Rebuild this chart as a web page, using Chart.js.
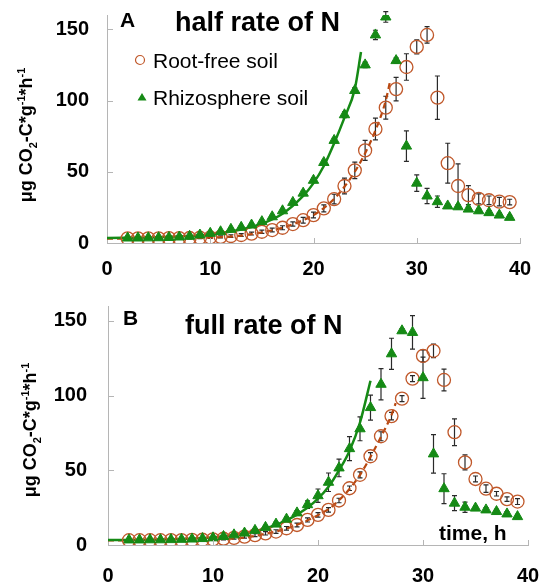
<!DOCTYPE html>
<html><head><meta charset="utf-8">
<script src="https://cdn.jsdelivr.net/npm/chart.js@4.4.1/dist/chart.umd.min.js"></script>
<style>
html,body{margin:0;padding:0;background:#fff}
body{width:543px;height:586px;overflow:hidden;position:relative;font-family:"Liberation Sans",Arial,sans-serif}
#wa{position:absolute;left:0;top:0;width:543px;height:290px}
#wb{position:absolute;left:0;top:290px;width:543px;height:296px}
.t{position:absolute;white-space:nowrap;line-height:1;color:#000;font-weight:bold}
.yt{position:absolute;white-space:nowrap;line-height:1;color:#000;font-weight:bold;font-size:18px;transform:translate(-50%,-50%) rotate(-90deg)}
.yt sub,.yt sup{font-size:11px;line-height:0}
.lg{position:absolute;white-space:nowrap;line-height:1;color:#000;font-size:21px}
svg{position:absolute}
</style>
</head><body>
<div id="wa"><canvas id="ca" width="543" height="290"></canvas></div>
<div id="wb"><canvas id="cb" width="543" height="296"></canvas></div>

<div class="yt" style="left:26px;top:135px">μg CO<sub>2</sub>-C*g<sup>-1</sup>*h<sup>-1</sup></div>
<div class="yt" style="left:30px;top:430px">μg CO<sub>2</sub>-C*g<sup>-1</sup>*h<sup>-1</sup></div>
<div class="t" style="left:120px;top:9px;font-size:21px">A</div>
<div class="t" style="left:175px;top:9px;font-size:27px">half rate of N</div>
<div class="t" style="left:123px;top:307px;font-size:21px">B</div>
<div class="t" style="left:185px;top:312px;font-size:27px">full rate of N</div>
<div class="t" style="left:439px;top:522px;font-size:21px">time, h</div>
<svg style="left:134px;top:54px" width="12" height="12"><circle cx="6" cy="6" r="4.5" fill="none" stroke="#C0582A" stroke-width="1.2"/></svg>
<svg style="left:136px;top:91px" width="12" height="12"><polygon points="6,2 10.5,9.5 1.5,9.5" fill="#158A15"/></svg>
<div class="lg" style="left:153px;top:50px">Root-free soil</div>
<div class="lg" style="left:153px;top:87px">Rhizosphere soil</div>

<script>
// ---------- data ----------
const hours = [2,3,4,5,6,7,8,9,10,11,12,13,14,15,16,17,18,19,20,21,22,23,24,25,26,27,28,29,30,31,32,33,34,35,36,37,38,39];
const xTicks = [0,10,20,30,40];
const yTicks = [0,50,100,150];

// Panel A: half rate of N
const rootFreeA    = [3.3,3.3,3.3,3.3,3.4,3.4,3.5,3.7,3.9,4.3,4.9,5.6,6.6,7.9,9.1,10.7,13.3,16,19.6,24.3,30.8,40,51,65,80,95,108,123.5,137.6,146,102,56,40,33.6,31,30,29,28.7];
const rootFreeErrA = [0.5,0.5,0.5,0.5,0.5,0.5,0.6,0.6,0.7,0.8,0.9,1,1,1.2,1.3,1.4,1.5,2,2,2.5,3.4,5.5,5.8,7,7.6,8,8.2,9.3,4.9,5.8,15.2,14,15.5,6.7,3.5,3,3,2];
const rhizoA       = [3.5,3.5,3.6,3.7,3.9,4.2,4.7,5.6,6.8,7.9,9.6,11,12.6,15,18.4,22.6,28.5,35,44,56.5,72,90,107,125,146,158.6,128,68,42,33,29,26,25.4,23.8,22.6,21.3,19.6,18];
const rhizoErrA    = [0.5,0.5,0.5,0.5,0.5,0.5,0.5,0.5,0.6,0.6,0.7,0.8,0.9,1,1,1,1.2,1.5,1.5,1.5,1.5,2,2,2,3.3,3.7,2,10.7,5.8,5.3,4,1.5,1.5,1.5,1.5,1.5,1.5,1.5];
const fitRhizoXA   = [0,5,10,13,15,17,19,20,21,22,23,24,24.6];
const fitRhizoYA   = [3.5,4.0,6.0,9.5,13.5,20.5,33,42,54,70,88,108,134];
const fitRootXA    = [0,5,10,13,15,17,19,20,21,22,23,24,25,26,27,27.4];
const fitRootYA    = [3,3.2,3.8,5.2,7.5,10.7,16,19.5,24.5,31,39.5,50,63,79,100,113];

// Panel B: full rate of N
const rootFreeB    = [3.2,3.2,3.2,3.2,3.3,3.3,3.4,3.5,3.8,4.2,4.8,5.6,6.6,7.8,9,11.2,13.4,16.8,20.2,23.5,29.8,38,47,59.4,72.8,86.3,98,111.4,126.6,130,110.5,75.5,55.3,44.2,37.7,34.3,30.7,29.1];
const rootFreeErrB = [0.6,0.6,0.6,0.6,0.6,0.6,0.7,0.7,0.8,0.8,0.9,1,1,1.1,1.2,1.2,1.3,1.4,1.5,1.5,1.5,1.5,2,2.5,3,2.5,2,2,4,4.5,7.3,9,5,2,2.5,1.5,1.5,2];
const rhizoB       = [3.4,3.4,3.5,3.5,3.6,3.8,4,4.3,4.8,5.7,6.8,8,9.8,11.8,14,17.3,21.5,27,33,42,51.6,64.5,77.8,92,107.6,128,143.4,142.3,112,61,37.7,28,25.3,24.7,23.5,22.4,20.8,19];
const rhizoErrB    = [0.5,0.5,0.5,0.5,0.5,0.5,0.5,0.6,0.7,0.8,0.9,1,1,1.2,1.3,1.4,1.5,2.5,4.5,6.2,5.9,8,8,8.4,10.5,10.4,1.5,11.2,13.8,12.9,10,5,3.4,1.5,1.5,1.5,1.5,1.5];
const fitRhizoXB   = [0,5,10,13,15,17,19,20,21,22,23,24,25];
const fitRhizoYB   = [3.3,3.6,5,7.8,11,16.5,25,31,39,50,63,82,110];
const fitRootXB    = [0,5,10,13,15,17,19,20,21,22,23,24,25,26,27,27.4];
const fitRootYB    = [3,3.2,3.8,5,7.5,11,16.5,20,24,30,37.5,47,59,72.5,87,95];

// ---------- styling ----------
const GREEN = '#158A15', BROWN = '#C0582A', DASH = '#B8470F', AXIS = '#b5b5b5';
Chart.defaults.font.family = "'Liberation Sans', Arial, sans-serif";
Chart.defaults.color = '#000';

const pts = (xs, ys) => xs.map((x, i) => ({x, y: ys[i]}));

const innerTicks = {
  id: 'innerTicks',
  afterDraw(chart) {
    const {ctx, scales: {x, y}, chartArea: a} = chart;
    ctx.save();
    ctx.strokeStyle = AXIS; ctx.lineWidth = 1;
    ctx.beginPath();
    xTicks.forEach(v => { if (!v) return; const px = Math.round(x.getPixelForValue(v)) + 0.5; ctx.moveTo(px, a.bottom); ctx.lineTo(px, a.bottom - 5); });
    yTicks.forEach(v => { if (!v) return; const py = Math.round(y.getPixelForValue(v)) + 0.5; ctx.moveTo(a.left, py); ctx.lineTo(a.left + 6, py); });
    ctx.stroke();
    ctx.restore();
  }
};

const errorBars = {
  id: 'errorBars',
  beforeDatasetsDraw(chart, args, opts) {
    const {ctx, scales: {x, y}} = chart;
    ctx.save();
    ctx.strokeStyle = '#2a2a2a'; ctx.lineWidth = 1.2;
    (opts.sets || []).forEach(s => {
      s.y.forEach((v, i) => {
        const e = s.err[i];
        const px = x.getPixelForValue(s.x[i]);
        const top = y.getPixelForValue(v + e), bot = y.getPixelForValue(v - e);
        ctx.beginPath();
        ctx.moveTo(px, top); ctx.lineTo(px, bot);
        ctx.moveTo(px - 2.5, top); ctx.lineTo(px + 2.5, top);
        ctx.moveTo(px - 2.5, bot); ctx.lineTo(px + 2.5, bot);
        ctx.stroke();
      });
    });
    ctx.restore();
  }
};

function makeChart(id, d, lay) {
  return new Chart(document.getElementById(id), {
    type: 'scatter',
    data: {
      datasets: [
        {label: 'Rhizosphere soil', data: pts(hours, d.rhizo), pointStyle: 'triangle', pointRadius: 6,
         backgroundColor: GREEN, borderColor: GREEN, borderWidth: 1, showLine: false},
        {label: 'Root-free soil', data: pts(hours, d.root), pointStyle: 'circle', pointRadius: 6.5,
         backgroundColor: 'rgba(0,0,0,0)', borderColor: BROWN, borderWidth: 1.3, showLine: false},
        {label: 'fit rhizo', data: pts(d.fgx, d.fgy), showLine: true, pointRadius: 0, borderColor: GREEN,
         borderWidth: 2.5, cubicInterpolationMode: 'monotone', fill: false},
        {label: 'fit root', data: pts(d.fbx, d.fby), showLine: true, pointRadius: 0, borderColor: DASH,
         borderWidth: 2.2, borderDash: [6, 4], cubicInterpolationMode: 'monotone', fill: false}
      ]
    },
    options: {
      responsive: false, animation: false, events: [],
      layout: {padding: {top: lay.top, right: lay.right, left: 0, bottom: 0}},
      plugins: {
        legend: {display: false}, tooltip: {enabled: false},
        errorBars: {sets: [
          {x: hours, y: d.root, err: d.rootErr},
          {x: hours, y: d.rhizo, err: d.rhizoErr}
        ]}
      },
      scales: {
        x: {type: 'linear', min: 0, max: 40,
            afterBuildTicks: s => { s.ticks = xTicks.map(v => ({value: v})); },
            afterFit: s => { s.height = lay.xh; s.paddingLeft = 0; s.paddingRight = 0; },
            grid: {display: false, drawTicks: false}, border: {display: true, color: AXIS, width: 1},
            ticks: {font: {size: 20, weight: 'bold'}, color: '#000', padding: lay.xpad, maxRotation: 0}},
        y: {type: 'linear', min: 0, max: 160,
            afterBuildTicks: s => { s.ticks = yTicks.map(v => ({value: v})); },
            afterFit: s => { s.width = lay.yw; s.paddingTop = 0; s.paddingBottom = 0; },
            grid: {display: false, drawTicks: false}, border: {display: true, color: AXIS, width: 1},
            ticks: {font: {size: 20, weight: 'bold'}, color: '#000', padding: lay.ypad}}
      }
    },
    plugins: [errorBars, innerTicks]
  });
}

makeChart('ca', {rhizo: rhizoA, rhizoErr: rhizoErrA, root: rootFreeA, rootErr: rootFreeErrA,
  fgx: fitRhizoXA, fgy: fitRhizoYA, fbx: fitRootXA, fby: fitRootYA},
  {top: 15, right: 23, xh: 47, yw: 107, xpad: 14, ypad: 18});
makeChart('cb', {rhizo: rhizoB, rhizoErr: rhizoErrB, root: rootFreeB, rootErr: rootFreeErrB,
  fgx: fitRhizoXB, fgy: fitRhizoYB, fbx: fitRootXB, fby: fitRootYB},
  {top: 16, right: 15, xh: 41, yw: 108, xpad: 19, ypad: 21});
</script>
</body></html>
